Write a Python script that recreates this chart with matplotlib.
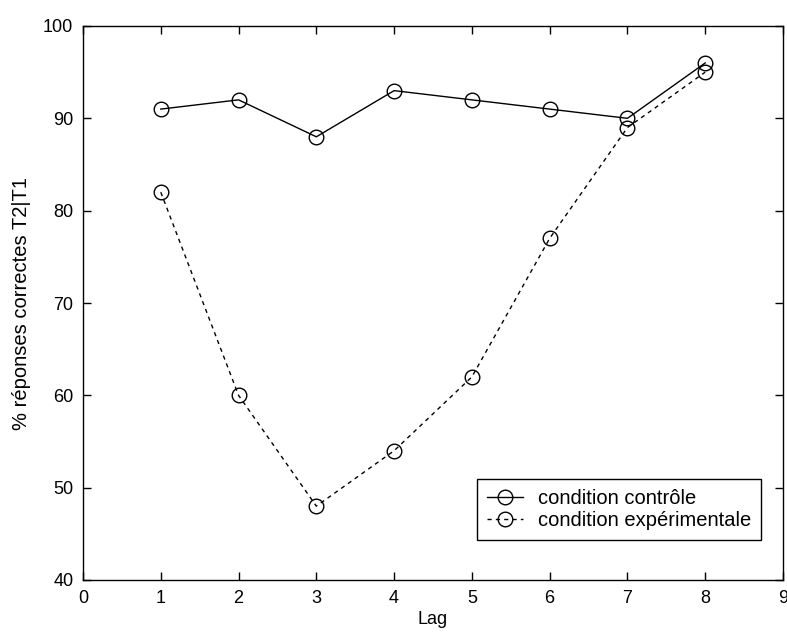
import matplotlib
matplotlib.use("Agg")
import matplotlib.pyplot as plt

lags = [1, 2, 3, 4, 5, 6, 7, 8]
controle = [91, 92, 88, 93, 92, 91, 90, 96]
experimentale = [82, 60, 48, 54, 62, 77, 89, 95]
xticks = [0, 1, 2, 3, 4, 5, 6, 7, 8, 9]
yticks = [40, 50, 60, 70, 80, 90, 100]

plt.rcParams['font.family'] = ['Liberation Sans', 'DejaVu Sans']
fs = 13

fig = plt.figure(figsize=(7.87, 6.35), dpi=100)
ax = fig.add_axes([83/787, 55/635, 700/787, 554/635])

ax.plot(lags, controle, color='black', lw=1.0, marker='o', markersize=10.5,
        markerfacecolor='none', markeredgecolor='black', markeredgewidth=1.0,
        label='condition contrôle')
ax.plot(lags, experimentale, color='black', lw=1.0, linestyle=(0, (3, 3)), marker='o',
        markersize=10.5, markerfacecolor='none', markeredgecolor='black',
        markeredgewidth=1.0, label='condition expérimentale')

ax.set_xlim(0, 9)
ax.set_ylim(40, 100)
ax.set_xticks(xticks)
ax.set_yticks(yticks)
ax.tick_params(direction='in', length=6, width=1, top=True, right=True,
               labelsize=fs, pad=7)
for s in ax.spines.values():
    s.set_linewidth(1.0)
ax.set_xlabel('Lag', fontsize=fs, labelpad=3)
ax.set_ylabel('% réponses correctes T2|T1', fontsize=14.5, labelpad=9)

leg = ax.legend(loc='lower right', bbox_to_anchor=(0.9686, 0.0722), fontsize=14.5,
                frameon=True, fancybox=False, edgecolor='black', framealpha=1,
                handlelength=1.75, handletextpad=0.75, borderpad=0.5,
                labelspacing=0.15, borderaxespad=0)
leg.get_frame().set_linewidth(1.0)

fig.savefig('out.png', dpi=100)
